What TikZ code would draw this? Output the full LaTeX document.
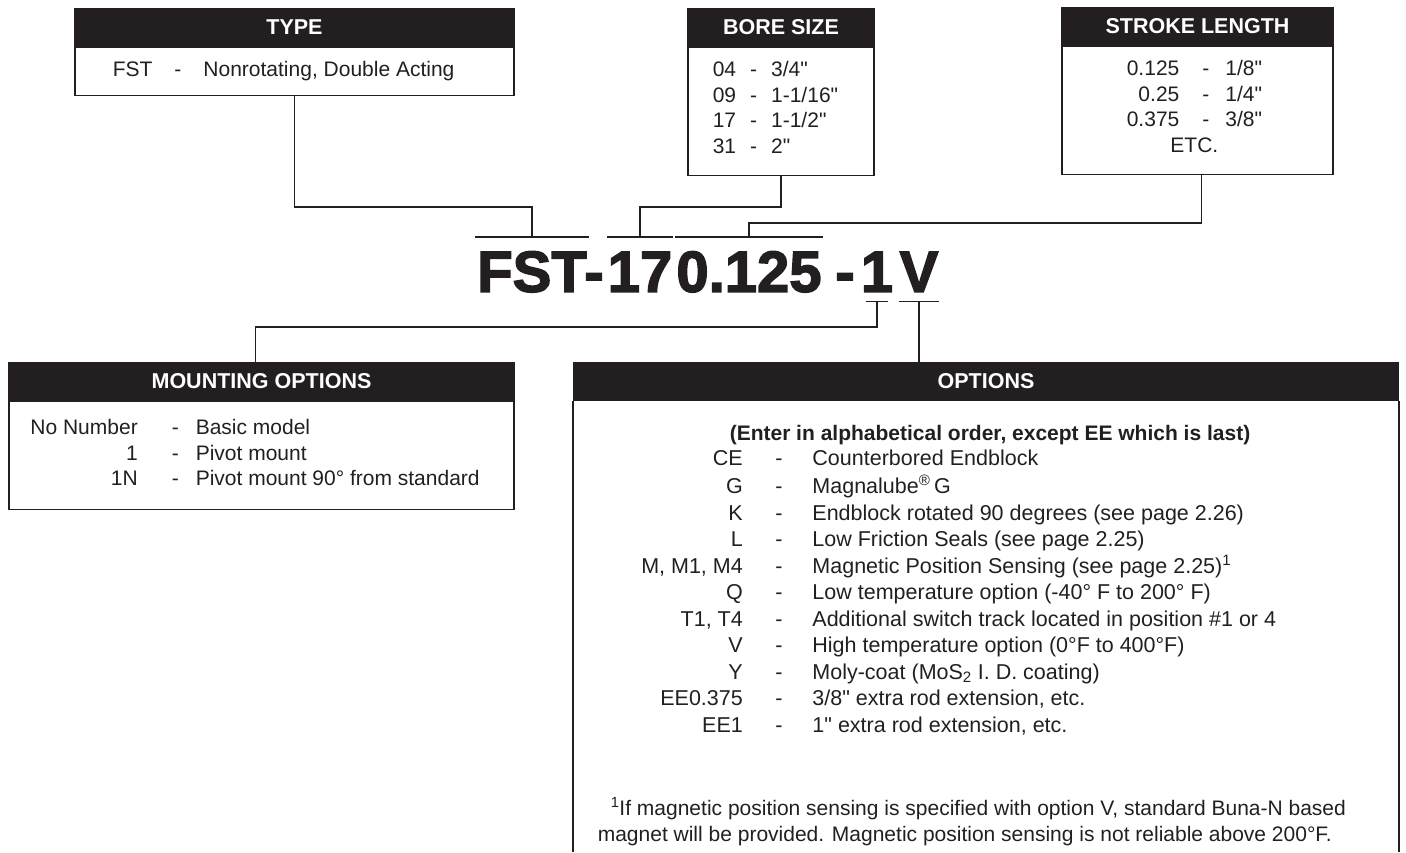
\documentclass[tikz,border=0pt]{standalone}
\usepackage{fontspec}
\setmainfont{Liberation Sans}[Ligatures=TeXOff]
\newfontfamily\partfont[BoldFeatures={FakeBold=2.5}]{Liberation Sans}
\usepackage{array}
\usetikzlibrary{positioning}
\definecolor{ink}{HTML}{231F20}

\begin{document}
\begin{tikzpicture}[x=1pt, y=-1pt, line width=1.6pt, color=ink,
    head/.style={anchor=north, fill=ink, draw=ink, text=white, inner sep=0pt,
        minimum height=37pt, font=\fontsize{21.5}{21.5}\selectfont\bfseries},
    panel/.style={draw=ink, inner sep=0pt},
    txt/.style={inner sep=0pt, font=\fontsize{21}{25.5}\selectfont},
    seg/.style={anchor=north, inner xsep=0pt, inner ysep=9pt, text height=45pt,
        text depth=0pt, font=\fontsize{58}{58}\partfont\bfseries}]

    \useasboundingbox (0,0) rectangle (1406,852);

    % Type
    \node[head, minimum width=439pt] (typehead) at (294.5,8) {TYPE};
    \node[panel, minimum width=439pt, minimum height=48pt, below=0pt of typehead] (typebody) {};
    \node[txt, anchor=base west] (typetxt) at (112,76) {FST\hspace{22pt}-\hspace{22pt}Nonrotating, Double Acting};

    % Bore size
    \node[head, minimum width=186pt] (borehead) at (781,8) {BORE SIZE};
    \node[panel, minimum width=186pt, minimum height=128pt, below=0pt of borehead] (borebody) {};
    \node[txt, anchor=base west] (boretxt) at (712,76.5) {\begin{tabular}[t]{@{}l@{\hspace{14pt}}c@{\hspace{14pt}}l@{}}
        04 & - & 3/4"\\
        09 & - & 1-1/16"\\
        17 & - & 1-1/2"\\
        31 & - & 2"
    \end{tabular}};

    % Stroke length
    \node[head, minimum width=271pt] (strokehead) at (1197.5,7) {STROKE LENGTH};
    \node[panel, minimum width=271pt, minimum height=128pt, below=0pt of strokehead] (strokebody) {};
    \node[txt, anchor=base west] (stroketxt) at (1126,75.5) {\begin{tabular}[t]{@{}r@{\hspace{23pt}}c@{\hspace{16pt}}l@{}}
        0.125 & - & 1/8"\\
        0.25 & - & 1/4"\\
        0.375 & - & 3/8"\\
        \multicolumn{3}{c}{ETC.}
    \end{tabular}};

    % Part number
    \node[seg, minimum width=112pt] (pfst) at (532,237) {FST};
    \node[seg] (pdash) at (594,237) {-};
    \node[seg, minimum width=60pt] (pbore) at (640,237) {17};
    \node[seg, minimum width=146pt] (pstroke) at (749,237) {0.125};
    \node[seg] (pdash2) at (845,237) {-};
    \node[seg] (pmount) at (877,237) {1};
    \node[seg] (popt) at (919,237) {V};

    % Underlines
    \draw (pfst.north west) -- (pfst.north east);
    \draw (pbore.north west) -- (pbore.north east);
    \draw (pstroke.north west) -- (pstroke.north east);
    \draw ([xshift=-11pt]pmount.south) -- ([xshift=11pt]pmount.south);
    \draw (popt.south west) -- (popt.south east);

    % Mounting options
    \node[head, minimum width=505pt] (mounthead) at (261.5,362) {MOUNTING OPTIONS};
    \node[panel, minimum width=505pt, minimum height=108pt, below=0pt of mounthead] (mountbody) {};
    \node[txt, anchor=base west] (mounttxt) at (25,434.5) {\begin{tabular}[t]{@{}>{\raggedleft\arraybackslash}p{112pt}@{\hspace{34pt}}c@{\hspace{17pt}}l@{}}
        No Number & - & Basic model\\
        1 & - & Pivot mount\\
        1N & - & Pivot mount 90° from standard
    \end{tabular}};

    % Options
    \node[head, minimum width=824pt] (opthead) at (986,362) {OPTIONS};
    \draw (opthead.south west) -- (opthead.south west |- 0,852);
    \draw (opthead.south east) -- (opthead.south east |- 0,852);
    \node[anchor=base, inner sep=0pt, font=\fontsize{21}{25.5}\selectfont\bfseries] (optnote) at (990,440.5)
        {(Enter in alphabetical order, except EE which is last)};
    \node[txt, font=\fontsize{21.5}{26.5}\selectfont, anchor=base west] (optlist) at (636,465.5) {\begin{tabular}[t]{@{}>{\raggedleft\arraybackslash}p{106pt}@{\hspace{32.5pt}}c@{\hspace{30pt}}l@{}}
        CE & - & Counterbored Endblock\\[1.5pt]
        G & - & Magnalube\textsuperscript{®}\,G\\
        K & - & Endblock rotated 90 degrees (see page 2.26)\\
        L & - & Low Friction Seals (see page 2.25)\\
        M, M1, M4 & - & Magnetic Position Sensing (see page 2.25)\textsuperscript{1}\\
        Q & - & Low temperature option (-40° F to 200° F)\\
        T1, T4 & - & Additional switch track located in position \#1 or 4\\
        V & - & High temperature option (0°F to 400°F)\\
        Y & - & Moly-coat (MoS\textsubscript{2} I. D. coating)\\
        EE0.375 & - & 3/8" extra rod extension, etc.\\
        EE1 & - & 1" extra rod extension, etc.
    \end{tabular}};
    \node[txt, anchor=base west] (foot1) at (610,815.5)
        {\textsuperscript{1}If magnetic position sensing is specified with option V, standard Buna-N based};
    \node[txt, anchor=base west] (foot2) at (597,841)
        {magnet will be provided. Magnetic position sensing is not reliable above 200°F.};

    % Connectors
    \draw (typebody.south) |- ([yshift=30pt]pfst.north) -- (pfst.north);
    \draw (borebody.south) |- ([yshift=30pt]pbore.north) -- (pbore.north);
    \draw ([xshift=4pt]strokebody.south) |- ([yshift=14pt]pstroke.north) -- (pstroke.north);
    \draw (pmount.south) |- ([xshift=-6pt, yshift=35pt]mounthead.north) -- ([xshift=-6pt]mounthead.north);
    \draw (popt.south) -- (popt.south |- opthead.north);
\end{tikzpicture}
\end{document}
